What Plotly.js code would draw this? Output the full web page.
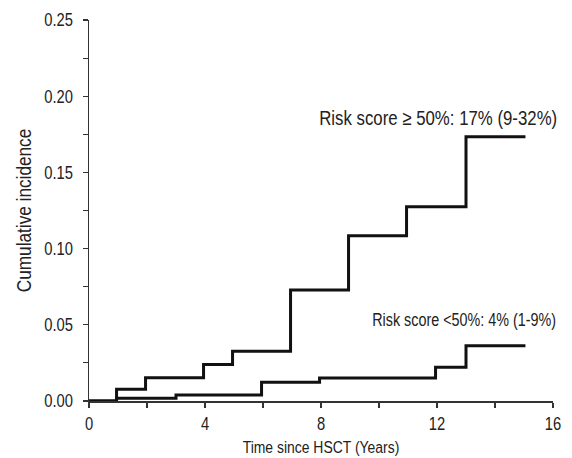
<!DOCTYPE html>
<html>
<head>
<meta charset="utf-8">
<script src="https://cdn.plot.ly/plotly-3.0.1.min.js"></script>
<style>html,body{margin:0;padding:0;background:#fff;}#chart{width:572px;height:458px;}</style>
</head>
<body>
<div id="chart"></div>
<script>
// Cumulative incidence step data (years, incidence)
const highX = [0, 0.95, 1.95, 3.95, 4.95, 6.95, 8.95, 10.95, 13.0, 15.05];
const highY = [0, 0.0077, 0.0153, 0.024, 0.0326, 0.0728, 0.1085, 0.1275, 0.1734, 0.1734];
const lowX = [0, 0.95, 3.0, 5.95, 7.95, 11.95, 13.0, 15.05];
const lowY = [0, 0.0018, 0.0039, 0.0123, 0.0151, 0.0221, 0.0363, 0.0363];
const highLabel = "Risk score \u2265 50%: 17% (9-32%)";
const lowLabel = "Risk score <50%: 4% (1-9%)";
const xTickVals = [0, 4, 8, 12, 16];
const yTickVals = [0, 0.05, 0.10, 0.15, 0.20, 0.25];
const yTickText = ["0.00", "0.05", "0.10", "0.15", "0.20", "0.25"];

const FONT = "Liberation Sans, Arial, sans-serif";
const lineStyle = {shape: 'hv', color: '#111', width: 3};

const traces = [
  {x: highX, y: highY, mode: 'lines', line: lineStyle, hoverinfo: 'skip', showlegend: false, cliponaxis: false},
  {x: lowX, y: lowY, mode: 'lines', line: lineStyle, hoverinfo: 'skip', showlegend: false, cliponaxis: false}
];

const layout = {
  width: 572, height: 458,
  margin: {l: 89, r: 19, t: 20, b: 57},
  paper_bgcolor: '#fff', plot_bgcolor: '#fff',
  font: {family: FONT, color: '#222', size: 18},
  showlegend: false,
  xaxis: {
    range: [0, 16], tickvals: xTickVals, ticktext: xTickVals.map(String),
    showgrid: false, zeroline: false, showline: true, linecolor: '#333', linewidth: 1.5,
    ticks: 'outside', ticklen: 5, tickcolor: '#333', tickwidth: 1.2,
    minor: {dtick: 2, ticks: 'outside', ticklen: 5, tickcolor: '#333', tickwidth: 1.2, showgrid: false},
    tickfont: {size: 18}, ticklabelstandoff: 1,
    title: {text: 'Time since HSCT (Years)', font: {size: 17}, standoff: 8}
  },
  yaxis: {
    range: [0, 0.25], tickvals: yTickVals, ticktext: yTickText,
    showgrid: false, zeroline: false, showline: true, linecolor: '#333', linewidth: 1.5,
    ticks: 'outside', ticklen: 5, tickcolor: '#333', tickwidth: 1.2,
    minor: {dtick: 0.025, ticks: 'outside', ticklen: 5, tickcolor: '#333', tickwidth: 1.2, showgrid: false},
    tickfont: {size: 18}, ticklabelstandoff: 6,
    title: {text: 'Cumulative incidence', font: {size: 21}, standoff: 0}
  },
  annotations: [
    {x: 0.752, y: 0.1857, xref: 'paper', yref: 'y', text: highLabel, showarrow: false, xanchor: 'center', yanchor: 'middle', font: {size: 20.5}},
    {x: 0.809, y: 0.0531, xref: 'paper', yref: 'y', text: lowLabel, showarrow: false, xanchor: 'center', yanchor: 'middle', font: {size: 17.5}}
  ]
};

// Narrow the glyphs horizontally about each text's anchor point (reference uses a condensed face)
function condense(gd, factor) {
  gd.querySelectorAll('svg text').forEach(function (t) {
    if (!t.textContent) return;
    const ax = parseFloat(t.getAttribute('x') || '0') || 0;
    const tr = t.getAttribute('transform') || '';
    t.setAttribute('transform', (tr + ' translate(' + ax + ',0) scale(' + factor + ',1) translate(' + (-ax) + ',0)').trim());
  });
}

Plotly.newPlot('chart', traces, layout, {staticPlot: true, displayModeBar: false}).then(function (gd) {
  condense(gd, 0.82);
});
</script>
</body>
</html>
